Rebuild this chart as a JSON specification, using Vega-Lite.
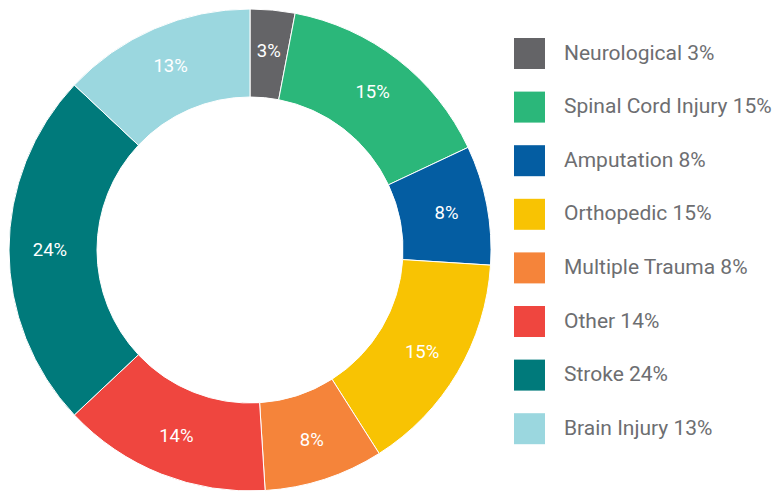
{
  "$schema": "https://vega.github.io/schema/vega-lite/v6.json",
  "width": 500,
  "height": 500,
  "padding": 0,
  "autosize": {"type": "pad"},
  "background": "white",
  "config": {"view": {"stroke": null}},
  "data": {
    "values": [
      {"idx": 1, "category": "Neurological", "value": 3, "label": "3%", "legend": "Neurological 3%"},
      {"idx": 2, "category": "Spinal Cord Injury", "value": 15, "label": "15%", "legend": "Spinal Cord Injury 15%"},
      {"idx": 3, "category": "Amputation", "value": 8, "label": "8%", "legend": "Amputation 8%"},
      {"idx": 4, "category": "Orthopedic", "value": 15, "label": "15%", "legend": "Orthopedic 15%"},
      {"idx": 5, "category": "Multiple Trauma", "value": 8, "label": "8%", "legend": "Multiple Trauma 8%"},
      {"idx": 6, "category": "Other", "value": 14, "label": "14%", "legend": "Other 14%"},
      {"idx": 7, "category": "Stroke", "value": 24, "label": "24%", "legend": "Stroke 24%"},
      {"idx": 8, "category": "Brain Injury", "value": 13, "label": "13%", "legend": "Brain Injury 13%"}
    ]
  },
  "encoding": {
    "theta": {"field": "value", "type": "quantitative", "stack": true},
    "order": {"field": "idx", "type": "quantitative", "sort": "ascending"}
  },
  "layer": [
    {
      "mark": {"type": "arc", "outerRadius": 241, "innerRadius": 153, "stroke": "white", "strokeWidth": 1},
      "encoding": {
        "color": {
          "field": "legend",
          "type": "nominal",
          "sort": null,
          "scale": {
            "domain": ["Neurological 3%", "Spinal Cord Injury 15%", "Amputation 8%", "Orthopedic 15%", "Multiple Trauma 8%", "Other 14%", "Stroke 24%", "Brain Injury 13%"],
            "range": ["#646467", "#2bb77a", "#045da2", "#f8c303", "#f5843a", "#ef463f", "#007a7b", "#9bd7df"]
          },
          "legend": {
            "title": null,
            "orient": "none",
            "legendX": 514,
            "legendY": 38,
            "padding": 0,
            "symbolType": "square",
            "symbolSize": 961,
            "symbolStrokeWidth": 0,
            "rowPadding": 22.6,
            "labelOffset": 19,
            "labelFont": "Roboto",
            "labelFontSize": 21,
            "labelColor": "#6d6e71",
            "labelLimit": 300
          }
        }
      }
    },
    {
      "mark": {"type": "text", "radius": 200, "font": "Roboto", "fontSize": 18.5, "fontWeight": "normal", "fill": "white", "align": "center", "baseline": "middle"},
      "encoding": {
        "text": {"field": "label", "type": "nominal"},
        "detail": {"field": "legend", "type": "nominal"}
      }
    }
  ]
}
